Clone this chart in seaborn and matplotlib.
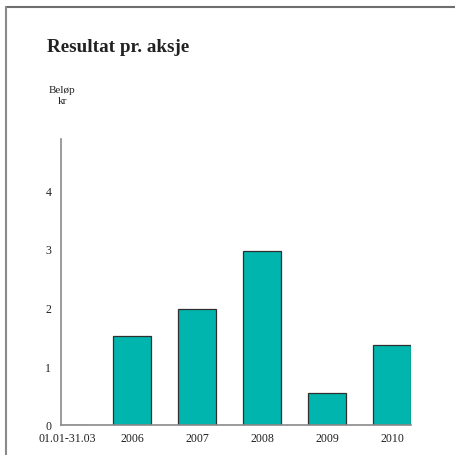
import matplotlib
matplotlib.use("Agg")
import matplotlib.pyplot as plt
from matplotlib.lines import Line2D
import seaborn as sns
import pandas as pd

# data
perioder = ['01.01-31.03', '2006', '2007', '2008', '2009', '2010']
resultat = [0.0, 1.52, 1.98, 2.96, 0.55, 1.36]

sns.set_style('white')
plt.rcParams['font.family'] = ['Liberation Serif', 'DejaVu Serif']

df = pd.DataFrame({'periode': perioder, 'resultat': resultat})

fig = plt.figure(figsize=(4.56, 4.56), dpi=100)
ax = fig.add_axes([0.1338, 0.0658, 0.7675, 0.6272])

sns.barplot(data=df, x='periode', y='resultat', color='#00b5ad',
            edgecolor='#2f2f2f', linewidth=0.9, width=0.58, saturation=1, ax=ax)

ax.set_xlim(-0.09, 5.29)
ax.set_ylim(0, 4.87)
ax.set_yticks([0, 1, 2, 3, 4])
ax.set_xlabel('')
ax.set_ylabel('')
ax.tick_params(axis='both', length=0, labelsize=8.6, colors='#222222')
ax.tick_params(axis='y', pad=7)
ax.tick_params(axis='x', pad=5)
for s in ['top', 'right']:
    ax.spines[s].set_visible(False)
for s in ['left', 'bottom']:
    ax.spines[s].set_color('#8a8a8a')
    ax.spines[s].set_linewidth(1.2)

# titler
fig.text(47 / 456, 1 - 48 / 456, 'Resultat pr. aksje', fontsize=13.8, fontweight='bold',
         ha='left', va='center', color='#222222')
fig.text(62 / 456, 1 - 96 / 456, 'Beløp\nkr', fontsize=8, ha='center', va='center',
         color='#222222', linespacing=1.3)

# ramme
fig.add_artist(Line2D([6 / 456, 1], [1 - 7.5 / 456, 1 - 7.5 / 456], color='#6e6e6e', lw=1.5,
                      transform=fig.transFigure))
fig.add_artist(Line2D([6.5 / 456, 6.5 / 456], [0, 1 - 7.5 / 456], color='#8a8a8a', lw=1.5,
                      transform=fig.transFigure))

fig.savefig('out.png', dpi=100)
